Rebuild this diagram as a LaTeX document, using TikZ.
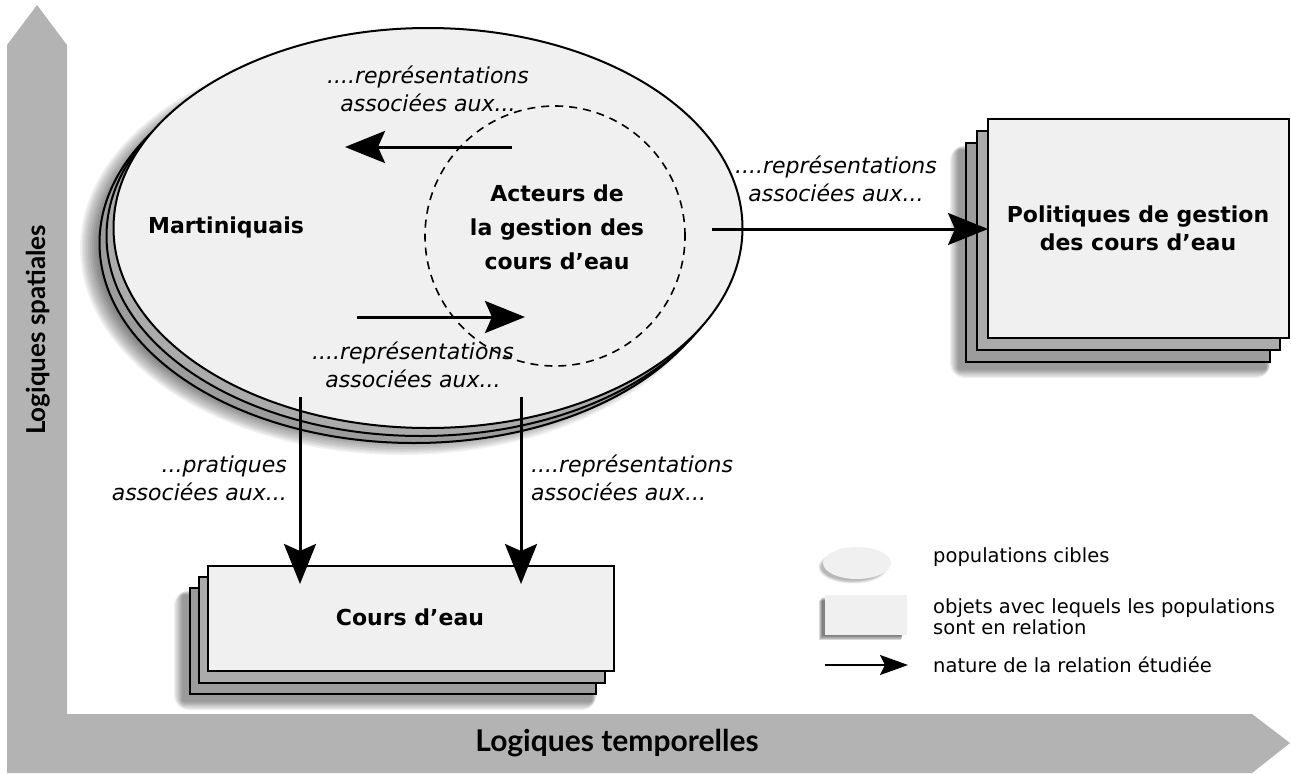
\documentclass[tikz,border=0pt]{standalone}
\usepackage{fontspec}
\setmainfont{DejaVu Sans}
\newfontfamily\axisfont{Lato}
\usetikzlibrary{arrows.meta,shapes.geometric}
\definecolor{axisgray}{HTML}{B3B3B3}
\definecolor{frontfill}{HTML}{F0F0F0}
\definecolor{backfill}{HTML}{9C9C9C}
\tikzset{
  popshape/.style={ellipse, draw=black, line width=2pt, inner sep=0pt,
    minimum width=629pt, minimum height=400pt},
  objshape/.style={rectangle, draw=black, line width=2pt, inner sep=0pt, anchor=north west},
  mainlabel/.style={font=\bfseries\fontsize{22}{34}\selectfont, align=center, inner sep=0pt},
  itlabel/.style={font=\itshape\fontsize{22}{28}\selectfont, inner sep=0pt},
  legtext/.style={font=\fontsize{19.5}{21}\selectfont, anchor=west, inner sep=0pt, align=left},
  bigarrow/.style={line width=3pt, -{Stealth[length=40pt,width=32pt,inset=7pt]}},
  smallarrow/.style={line width=2pt, -{Stealth[length=28pt,width=20pt,inset=5pt]}},
  axislabel/.style={font=\axisfont\bfseries\fontsize{30}{34}\selectfont, inner sep=0pt},
  dashcircle/.style={circle, draw=black, line width=1.6pt, dash pattern=on 8pt off 6pt,
    minimum size=260pt, inner sep=0pt}
}
\begin{document}
\begin{tikzpicture}[x=1pt,y=-1pt]
\useasboundingbox (0,0) rectangle (1291,774);
\fill[white] (0,0) rectangle (1291,774);

% axes
\fill[axisgray] (7,773) -- (7,45) -- (37,5) -- (67,45) -- (67,714) -- (1252,714)
  -- (1290,743) -- (1252,773) -- cycle;
\node[axislabel] (tempo) at (617,743) {Logiques temporelles};
\node[axislabel, font=\axisfont\bfseries\fontsize{26}{30}\selectfont, rotate=90] (spat) at (38,330) {Logiques spatiales};

% ellipse shadow
\foreach \w in {1,3,...,17}
  \fill[black, opacity=0.06] (402,248) ellipse [x radius=315-\w, y radius=200-\w];
\foreach \w in {2,5,...,14}
  \fill[black, opacity=0.05] (402,248) ellipse [x radius=315+\w*0.5, y radius=200+\w*0.5];

% ellipse stack
\node[popshape, fill=backfill] (pop3) at (414,243) {};
\node[popshape, fill=backfill!85] (pop2) at (421,236) {};
\node[popshape, fill=frontfill] (pop) at (428,228) {};

\node[dashcircle] (act) at (555,236) {};

\node[mainlabel] (mart) at (226,227) {Martiniquais};
\node[mainlabel] (actlab) at (557,227) {Acteurs de\\la gestion des\\cours d'eau};

% Politiques box stack shadow
\foreach \w in {1,3,...,15}
  \fill[black, opacity=0.06, rounded corners=\w pt] (959-\w*0.6,150-\w*0.3) rectangle (1266+\w*0.3,369+\w*0.6);
\node[objshape, fill=backfill, minimum width=304pt, minimum height=219pt] (pol3) at (965,142) {};
\node[objshape, fill=backfill!85, minimum width=303pt, minimum height=219pt] (pol2) at (976,130) {};
\node[objshape, fill=frontfill, minimum width=301pt, minimum height=219pt] (pol) at (987,118) {};
\node[mainlabel, font=\bfseries\fontsize{22}{28}\selectfont] (pollab) at (1138,228) {Politiques de gestion\\des cours d'eau};

% Cours d'eau box stack shadow
\foreach \w in {1,3,...,15}
  \fill[black, opacity=0.06, rounded corners=\w pt] (183-\w*0.6,595-\w*0.3) rectangle (592+\w*0.3,701+\w*0.6);
\node[objshape, fill=backfill, minimum width=406pt, minimum height=106pt] (cours3) at (189,587) {};
\node[objshape, fill=backfill!85, minimum width=406pt, minimum height=106pt] (cours2) at (198,576) {};
\node[objshape, fill=frontfill, minimum width=406pt, minimum height=105pt] (cours) at (207,565) {};
\node[mainlabel] (courslab) at (410,617) {Cours d'eau};

% arrows
\coordinate (a1s) at (512,147); \coordinate (a1e) at (345,147);
\coordinate (a2s) at (357,317); \coordinate (a2e) at (525,317);
\coordinate (a3s) at (712,229); \coordinate (a3e) at (988,229);
\coordinate (d1s) at (300,397); \coordinate (d1e) at (300,584);
\coordinate (d2s) at (521,397); \coordinate (d2e) at (521,584);
\draw[bigarrow] (a1s) -- (a1e);
\draw[bigarrow] (a2s) -- (a2e);
\draw[bigarrow] (a3s) -- (a3e);
\draw[bigarrow] (d1s) -- (d1e);
\draw[bigarrow] (d2s) -- (d2e);

% labels
\node[itlabel, align=center] (l1) at (428,89) {....représentations\\associées aux...};
\node[itlabel, align=center] (l2) at (413,365) {....représentations\\associées aux...};
\node[itlabel, align=center] (l3) at (836,179) {....représentations\\associées aux...};
\node[itlabel, align=right, anchor=east] (l4) at (287,478) {...pratiques\\associées aux...};
\node[itlabel, align=left, anchor=west] (l5) at (531,478) {....représentations\\associées aux...};

% legend
\foreach \w in {1,2,...,6}
  \fill[black, opacity=0.05] (853,567) ellipse [x radius=33+\w*0.6-2, y radius=15+\w*0.6-2];
\node[ellipse, fill=frontfill, minimum width=68pt, minimum height=32pt, inner sep=0pt] (legell) at (857,563) {};
\node[legtext] (legt1) at (933,557) {populations cibles};
\foreach \w in {1,2,...,8}
  \fill[black, opacity=0.08] (818+\w*0.5,601-\w*0.5) rectangle (901+\w*0.2,641-\w*0.6);
\node[rectangle, fill=frontfill, anchor=north west, minimum width=82pt, minimum height=40pt, inner sep=0pt] (legrect) at (825,595) {};
\node[legtext] (legt2) at (933,617) {objets avec lequels les populations\\sont en relation};
\coordinate (las) at (825,665); \coordinate (lae) at (908,665);
\draw[smallarrow] (las) -- (lae);
\node[legtext] (legt3) at (933,665) {nature de la relation étudiée};
\end{tikzpicture}
\end{document}
